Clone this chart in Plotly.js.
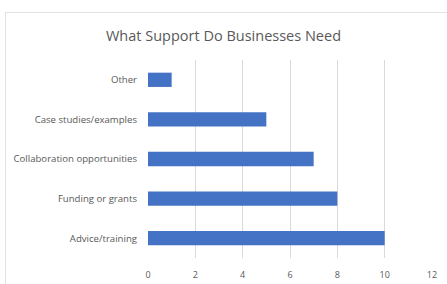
<!DOCTYPE html>
<html><head><meta charset="utf-8">
<script src="https://cdn.plot.ly/plotly-3.0.1.min.js"></script>
<style>html,body{margin:0;padding:0;background:#fff;}#wrap{position:relative;width:447px;height:284px;}#frame{position:absolute;left:5px;top:12px;width:450px;height:280px;border:1px solid #e3e3e3;box-sizing:border-box;pointer-events:none;}#chart{position:absolute;left:0;top:0;width:447px;height:284px;}</style>
</head><body><div id="wrap"><div id="chart"></div><div id="frame"></div></div>
<script>
const categories = ["Advice/training", "Funding or grants", "Collaboration opportunities", "Case studies/examples", "Other"];
const counts = [10, 8, 7, 5, 1];
const tickValues = [0, 2, 4, 6, 8, 10, 12];
const titleText = "What Support Do Businesses Need";

Plotly.newPlot('chart', [{
  type: 'bar', orientation: 'h', y: categories, x: counts,
  marker: {color: '#4472c4'}, hoverinfo: 'none'
}], {
  width: 447, height: 284,
  margin: {l: 148, r: 15, t: 60, b: 26},
  paper_bgcolor: 'rgba(0,0,0,0)', plot_bgcolor: '#fff',
  bargap: 0.64,
  title: {text: titleText, x: 0.5, xanchor: 'center', y: 0.875, yanchor: 'middle',
    font: {family: 'Open Sans, sans-serif', size: 14.5, color: '#595959'}},
  xaxis: {range: [0, 12], tickvals: tickValues, showgrid: true, gridcolor: '#d9d9d9', gridwidth: 1,
    zeroline: false, showline: false, ticks: '', ticklabelstandoff: 10,
    tickfont: {family: 'Open Sans, sans-serif', size: 9, color: '#595959'}},
  yaxis: {showgrid: false, zeroline: false, showline: false, ticks: '', ticklabelstandoff: 10,
    tickfont: {family: 'Open Sans, sans-serif', size: 9.6, color: '#595959'}},
  showlegend: false
}, {displayModeBar: false, staticPlot: true});
</script></body></html>
